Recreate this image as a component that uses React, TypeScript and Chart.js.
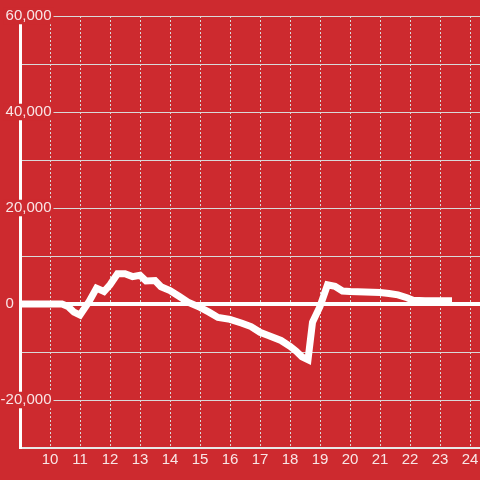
import React, { useEffect, useRef } from 'react';
import { Chart, registerables } from 'chart.js';

Chart.register(...registerables);

// Hours of the day (decimal) and the value of the series at each hour
const hours = [
  9.0, 9.5, 10.0, 10.4, 10.6, 10.8, 11.0, 11.3, 11.55, 11.8,
  12.0, 12.25, 12.5, 12.75, 13.0, 13.2, 13.5, 13.7, 14.0, 14.3,
  14.6, 15.0, 15.3, 15.6, 16.0, 16.4, 16.7, 17.0, 17.3, 17.7,
  18.0, 18.2, 18.4, 18.6, 18.75, 19.0, 19.25, 19.5, 19.75, 20.0,
  20.5, 21.0, 21.3, 21.6, 21.9, 22.1, 22.5, 23.0, 23.4,
];
const values = [
  0, 0, 0, 0, -500, -1700, -2300, 500, 3300, 2600,
  4000, 6300, 6300, 5700, 6000, 4800, 4900, 3600, 2800, 1600,
  400, -700, -1700, -2800, -3200, -4000, -4700, -5900, -6600, -7600,
  -8800, -9800, -11000, -11600, -3800, -500, 4000, 3700, 2700, 2600,
  2500, 2400, 2200, 1900, 1300, 800, 700, 700, 700,
];
const xTickHours = [10, 11, 12, 13, 14, 15, 16, 17, 18, 19, 20, 21, 22, 23, 24];
const xMin = 9;
const xMax = 24.333;
const yMin = -30000;
const yMax = 60000;
const yStep = 10000;
const yLabelEvery = 20000;

const RED = '#cd2a2f';
const TEXT = 'rgba(255,255,255,0.88)';
const GRID = '#d9d9d9';
const FONT = { family: '"Liberation Sans", Arial, sans-serif', size: 15, lineHeight: 1.1 };

export default function App() {
  const ref = useRef<HTMLCanvasElement>(null);

  useEffect(() => {
    const chart = new Chart(ref.current!, {
      type: 'line',
      data: {
        datasets: [
          {
            data: hours.map((h, i) => ({ x: h, y: values[i] })),
            borderColor: '#ffffff',
            borderWidth: 7,
            pointRadius: 0,
            tension: 0,
            fill: false,
            borderJoinStyle: 'miter',
          },
        ],
      },
      options: {
        responsive: false,
        animation: false,
        devicePixelRatio: 1,
        layout: { padding: { top: 16, left: 0, right: 0, bottom: 0 } },
        plugins: { legend: { display: false }, tooltip: { enabled: false } },
        scales: {
          x: {
            type: 'linear',
            min: xMin,
            max: xMax,
            afterBuildTicks: (s: any) => {
              s.ticks = xTickHours.map((v) => ({ value: v }));
            },
            afterFit: (s: any) => {
              s.height = 32;
              s.paddingLeft = 0;
              s.paddingRight = 0;
            },
            grid: { color: GRID, lineWidth: 1, drawTicks: false },
            border: { display: true, color: '#e8e8e8', width: 2, dash: [2, 2] },
            ticks: {
              color: TEXT,
              font: FONT,
              padding: 4,
              maxRotation: 0,
              autoSkip: false,
              callback: (v: any) => String(v),
            },
          },
          y: {
            type: 'linear',
            min: yMin,
            max: yMax,
            afterFit: (s: any) => {
              s.width = 20;
              s.paddingTop = 0;
              s.paddingBottom = 0;
            },
            grid: {
              drawTicks: false,
              color: (ctx: any) => (ctx.tick && ctx.tick.value === 0 ? '#ffffff' : GRID),
              lineWidth: (ctx: any) => (ctx.tick && ctx.tick.value === 0 ? 4 : 1),
            },
            border: { display: true, color: '#ffffff', width: 3 },
            ticks: {
              stepSize: yStep,
              color: TEXT,
              font: FONT,
              mirror: true,
              crossAlign: 'far',
              padding: -19.4,
              z: 1,
              autoSkip: false,
              showLabelBackdrop: true,
              backdropPadding: { left: 2, right: 2, top: 0, bottom: 0 },
              backdropColor: (ctx: any) =>
                ctx.tick && ctx.tick.value % yLabelEvery === 0 && ctx.tick.value !== 0
                  ? RED
                  : 'rgba(0,0,0,0)',
              callback: (v: any) => {
                const n = Number(v);
                if (n % yLabelEvery !== 0) return '';
                if (n === 0) return '0' + ' '.repeat(9);
                return n.toLocaleString('en-US');
              },
            },
          },
        },
      },
    } as any);
    return () => chart.destroy();
  }, []);

  return (
    <div
      style={{
        position: 'fixed',
        left: 0,
        top: 0,
        width: 480,
        height: 480,
        background: RED,
      }}
    >
      <canvas ref={ref} width={480} height={480} style={{ display: 'block' }} />
    </div>
  );
}
